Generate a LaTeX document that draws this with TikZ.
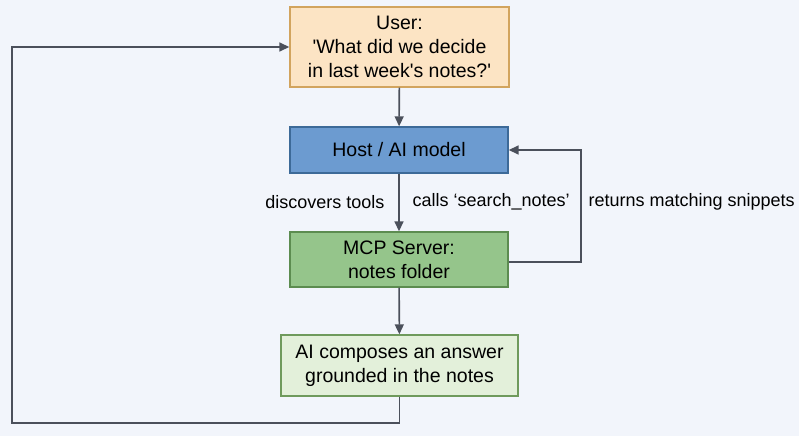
\documentclass[tikz,border=0pt]{standalone}
\usepackage{fontspec}
\setmainfont{Liberation Sans}
\usetikzlibrary{arrows.meta,positioning}
\definecolor{bgcol}{HTML}{F2F5FB}
\definecolor{usrfill}{HTML}{FCE4C4}
\definecolor{usrline}{HTML}{D2A45E}
\definecolor{hostfill}{HTML}{6C9BD0}
\definecolor{hostline}{HTML}{3D6A98}
\definecolor{mcpfill}{HTML}{95C58B}
\definecolor{mcpline}{HTML}{5C8C50}
\definecolor{ansfill}{HTML}{E3F0DA}
\definecolor{ansline}{HTML}{6F9A5C}
\definecolor{wire}{HTML}{4B505B}
\tikzset{
	box/.style={draw, line width=1.4pt, align=center, inner sep=0pt,
		font=\fontsize{19.5}{24}\selectfont},
	wirearrow/.style={draw=wire, line width=1.6pt, -{Triangle[length=10pt,width=9pt]}},
	lbl/.style={font=\fontsize{18}{22}\selectfont}
}
\begin{document}
\begin{tikzpicture}[x=1pt,y=-1pt]
		%%%%% START %%%%%
		
		\fill[bgcol] (0,0) rectangle (799,436);
		\useasboundingbox (0,0) rectangle (799,436);
		
		\node[box, fill=usrfill, draw=usrline, minimum width=219pt, minimum height=80pt] (user) at (399.5,47)
			{User:\\\textquotesingle What did we decide\\in last week\textquotesingle s notes?\textquotesingle};
		\node[box, fill=hostfill, draw=hostline, minimum width=218pt, minimum height=46pt] (host) at (399,150)
			{Host / AI model};
		\node[box, fill=mcpfill, draw=mcpline, minimum width=218pt, minimum height=55pt] (mcp) at (399,259.5)
			{MCP Server:\\notes folder};
		\node[box, fill=ansfill, draw=ansline, minimum width=237pt, minimum height=61pt] (answer) at (399.5,365.5)
			{AI composes an answer\\grounded in the notes};
		
		\draw[wirearrow] (user) -- (host);
		\draw[wirearrow] (host) -- (mcp);
		\draw[wirearrow] (mcp) -- (answer);
		
		\node[lbl, anchor=east] (disc) at (388,202) {discovers tools};
		\node[lbl, anchor=west] (calls) at (409,202) {calls `search\_notes'};
		\node[lbl, anchor=west] (ret) at (585,202) {returns matching snippets};
		
		\coordinate (retR) at (581,262);
		\draw[wirearrow] (mcp.east |- retR) -- (retR) |- (host.east);
		
		\coordinate (loopB) at (12,423);
		\draw[wirearrow] (answer.south) |- (loopB) |- (user.west);
		
		%%%%% END %%%%%
\end{tikzpicture}
\end{document}
